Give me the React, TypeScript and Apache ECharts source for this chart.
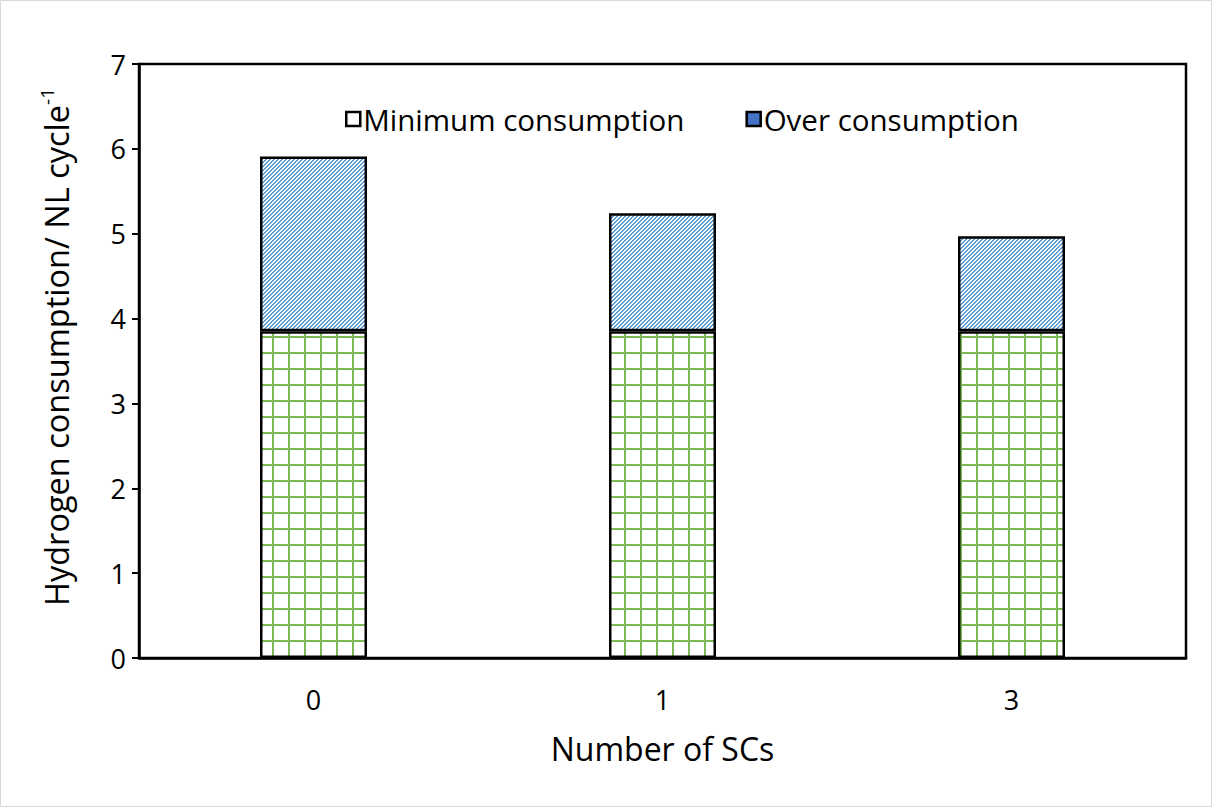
import React, { useEffect, useRef } from "react";
import * as echarts from "echarts";

const categories = ["0", "1", "3"];
const minimumConsumption = [3.85, 3.85, 3.85];
const overConsumption = [2.06, 1.39, 1.12];
const yTicks = { min: 0, max: 7, interval: 1 };
const seriesNames = ["Minimum consumption", "Over consumption"];

function makeGridPattern(): HTMLCanvasElement {
  const c = document.createElement("canvas");
  c.width = 16;
  c.height = 16;
  const ctx = c.getContext("2d")!;
  ctx.fillStyle = "#ffffff";
  ctx.fillRect(0, 0, 16, 16);
  ctx.fillStyle = "#7cb955";
  ctx.fillRect(0, 0, 2, 16);
  ctx.fillRect(0, 0, 16, 2);
  return c;
}

function makeDiagPattern(): HTMLCanvasElement {
  const n = 4;
  const c = document.createElement("canvas");
  c.width = n;
  c.height = n;
  const ctx = c.getContext("2d")!;
  ctx.fillStyle = "#ffffff";
  ctx.fillRect(0, 0, n, n);
  ctx.fillStyle = "#5b9bd5";
  for (let y = 0; y < n; y++) {
    for (let x = 0; x < n; x++) {
      const k = (x + y) % n;
      if (k === 0 || k === 1) ctx.fillRect(x, y, 1, 1);
    }
  }
  return c;
}

export default function App() {
  const ref = useRef<HTMLDivElement>(null);
  useEffect(() => {
    if (!ref.current) return;
    const chart = echarts.init(ref.current, null, { renderer: "svg" });
    const font = "'Open Sans', sans-serif";
    const grid = makeGridPattern();
    const diag = makeDiagPattern();
    chart.setOption({
      animation: false,
      backgroundColor: "#ffffff",
      textStyle: { fontFamily: font, color: "#000" },
      graphic: [
        {
          type: "rect",
          shape: { x: 0.5, y: 0.5, width: 1211, height: 806 },
          style: { fill: "none", stroke: "#d9d9d9", lineWidth: 1 },
          silent: true,
        },
      ],
      legend: {
        left: 340,
        top: 99,
        itemWidth: 14,
        itemHeight: 14,
        itemGap: 61,
        icon: "rect",
        textStyle: { fontFamily: font, fontSize: 29.5, color: "#000", padding: [0, 0, 0, -2] },
        data: [
          {
            name: seriesNames[0],
            itemStyle: { color: "#ffffff", borderColor: "#000", borderWidth: 2.5 },
          },
          {
            name: seriesNames[1],
            itemStyle: { color: "#4472c4", borderColor: "#000", borderWidth: 2.5 },
          },
        ],
      },
      grid: {
        left: 139,
        right: 26,
        top: 64,
        bottom: 149,
        show: true,
        borderColor: "#000",
        borderWidth: 2.5,
        backgroundColor: "transparent",
      },
      xAxis: {
        type: "category",
        data: categories,
        name: "Number of SCs",
        nameLocation: "middle",
        nameGap: 74,
        nameTextStyle: { fontFamily: font, fontSize: 32, color: "#000" },
        axisLine: { lineStyle: { color: "#000", width: 2.5 } },
        axisTick: { show: false },
        axisLabel: { fontFamily: font, fontSize: 27, color: "#000", margin: 28 },
      },
      yAxis: {
        type: "value",
        min: yTicks.min,
        max: yTicks.max,
        interval: yTicks.interval,
        name: "Hydrogen consumption/ NL cycle{sup|-1}",
        nameLocation: "middle",
        nameGap: 64,
        nameRotate: 90,
        nameTextStyle: {
          fontFamily: font,
          fontSize: 32.5,
          color: "#000",
          padding: [0, 0, 0, 28],
          rich: {
            sup: { fontFamily: font, fontSize: 19, color: "#000", verticalAlign: "top", lineHeight: 38 },
          },
        },
        splitLine: { show: false },
        axisLine: { show: true, lineStyle: { color: "#000", width: 2.5 } },
        axisTick: { show: true, length: 7, lineStyle: { color: "#000", width: 2 } },
        axisLabel: { fontFamily: font, fontSize: 27, color: "#000", margin: 13 },
      },
      series: [
        {
          name: seriesNames[0],
          type: "bar",
          stack: "total",
          barWidth: 107,
          data: minimumConsumption,
          itemStyle: {
            color: { image: grid, repeat: "repeat", imageWidth: 16, imageHeight: 16 },
            borderColor: "#000",
            borderWidth: 2.5,
          },
        },
        {
          name: seriesNames[1],
          type: "bar",
          stack: "total",
          barWidth: 107,
          data: overConsumption,
          itemStyle: {
            color: { image: diag, repeat: "repeat", imageWidth: 4, imageHeight: 4 },
            borderColor: "#000",
            borderWidth: 2.5,
          },
        },
      ],
    });
    return () => chart.dispose();
  }, []);
  return (
    <div
      ref={ref}
      style={{ position: "absolute", left: 0, top: 0, width: 1212, height: 807 }}
    />
  );
}
